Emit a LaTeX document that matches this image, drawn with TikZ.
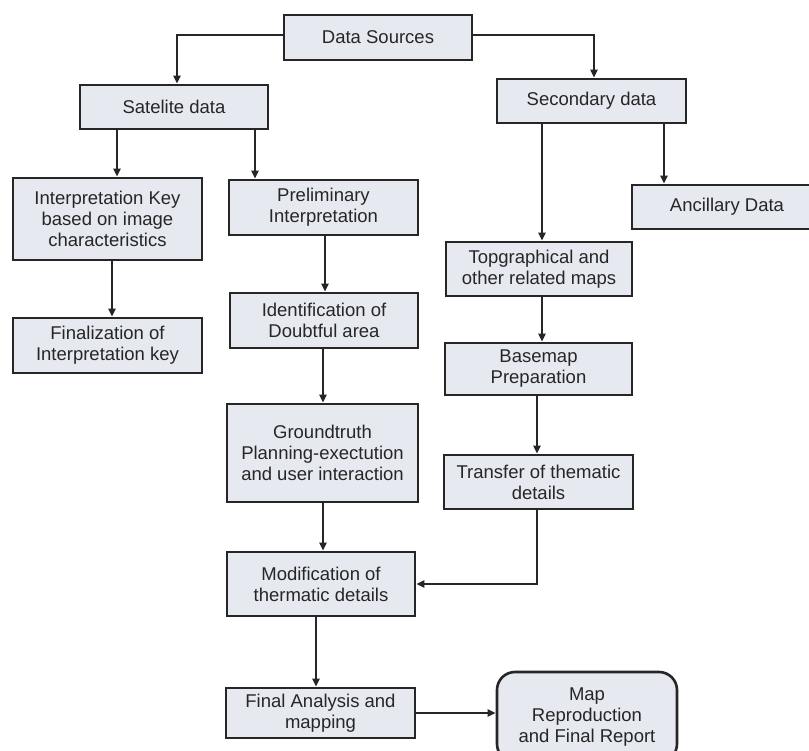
\documentclass[tikz,border=0pt]{standalone}
\usepackage{fontspec}
\setmainfont{Liberation Sans}
\usetikzlibrary{arrows.meta}
\definecolor{boxfill}{HTML}{E7E9F1}
\definecolor{ink}{HTML}{262626}
\begin{document}
\begin{tikzpicture}[x=1pt,y=-1pt,
  box/.style={draw=ink, line width=2.6pt, fill=boxfill, align=center, inner sep=0pt,
    font=\fontsize{18.5}{21}\selectfont, text=ink},
  arr/.style={draw=ink, line width=2pt, -{Triangle[length=8pt,width=7pt]}}]
\useasboundingbox (0,0) rectangle (809,751);
\fill[white] (0,0) rectangle (809,751);
% nodes (centre, width, height)
\node[box, minimum width=188pt, minimum height=45pt] (ds) at (378,37.5) {Data Sources};
\node[box, minimum width=188pt, minimum height=44pt] (sat) at (174,107) {Satelite data};
\node[box, minimum width=189pt, minimum height=44pt] (sec) at (591.5,101) {Secondary data};
\node[box, minimum width=189pt, minimum height=82pt] (ik) at (107.5,219) {Interpretation Key\\based on image\\characteristics};
\node[box, minimum width=189pt, minimum height=55pt] (pi) at (323.5,207.5) {Preliminary\\Interpretation};
\node[box, minimum width=190pt, minimum height=44pt] (anc) at (727,207) {Ancillary Data};
\node[box, minimum width=186pt, minimum height=54pt] (topo) at (539,269) {Topgraphical and\\other related maps};
\node[box, minimum width=189pt, minimum height=55pt] (fin) at (107.5,345.5) {Finalization of\\Interpretation key};
\node[box, minimum width=188pt, minimum height=55pt] (iden) at (324,320.5) {Identification of\\Doubtful area};
\node[box, minimum width=187pt, minimum height=52pt] (base) at (538.5,369) {Basemap\\Preparation};
\node[box, minimum width=191pt, minimum height=98pt] (gt) at (322.5,453) {Groundtruth\\Planning-exectution\\and user interaction};
\node[box, minimum width=189pt, minimum height=54pt] (trans) at (538.5,482) {Transfer of thematic\\details};
\node[box, minimum width=188pt, minimum height=64pt] (mod) at (321,584) {Modification of\\thermatic details};
\node[box, minimum width=189pt, minimum height=50pt] (fa) at (320.5,713) {Final Analysis and\\mapping};
\node[box, rounded corners=18pt, minimum width=180pt, minimum height=90pt] (map) at (587,717) {Map\\Reproduction\\and Final Report};
% connectors
\draw[arr] (ds.west |- 0,35) -| (177,0 |- sat.north);
\draw[arr] (ds.east |- 0,35) -| (594,0 |- sec.north);
\draw[arr] (117,0 |- sat.south) -- (117,0 |- ik.north);
\draw[arr] (255,0 |- sat.south) -- (255,0 |- pi.north);
\draw[arr] (542,0 |- sec.south) -- (542,0 |- topo.north);
\draw[arr] (664,0 |- sec.south) -- (664,0 |- anc.north);
\draw[arr] (112,0 |- ik.south) -- (112,0 |- fin.north);
\draw[arr] (325,0 |- pi.south) -- (325,0 |- iden.north);
\draw[arr] (323,0 |- iden.south) -- (323,0 |- gt.north);
\draw[arr] (323,0 |- gt.south) -- (323,0 |- mod.north);
\draw[arr] (542,0 |- topo.south) -- (542,0 |- base.north);
\draw[arr] (537,0 |- base.south) -- (537,0 |- trans.north);
\draw[arr] (537,0 |- trans.south) |- (mod.east |- 0,584);
\draw[arr] (316,0 |- mod.south) -- (316,0 |- fa.north);
\draw[arr] (fa.east |- 0,713) -- (map.west |- 0,713);
\end{tikzpicture}
\end{document}
